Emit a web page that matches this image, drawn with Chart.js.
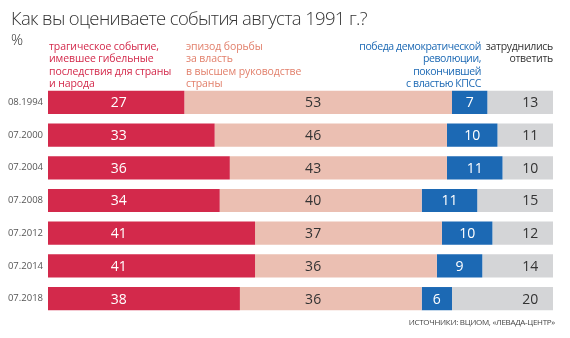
<!DOCTYPE html>
<html lang="ru">
<head>
<meta charset="utf-8">
<title>События августа 1991 г.</title>
<script src="https://cdn.jsdelivr.net/npm/chart.js@4"></script>
<style>
  body { margin: 0; background: #fff; font-family: "Open Sans", "Noto Sans", sans-serif; }
  #wrap { position: relative; width: 570px; height: 338px; overflow: hidden; }
  #myChart { position: absolute; left: 0; top: 0; }
  .t { position: absolute; white-space: nowrap; }
  #title { left: 11px; top: 5px; font-size: 18.5px; font-weight: 300; color: #333; letter-spacing: -0.65px; }
  #pct { left: 11px; top: 29px; font-size: 15px; font-weight: 300; color: #333; }
  .head { top: 40px; font-size: 10.5px; line-height: 12.4px; letter-spacing: -0.1px; }
  #h1 { left: 49px; color: #d3294b; }
  #h2 { left: 186px; color: #e2806c; }
  #h3 { right: 89px; color: #1c69b4; text-align: right; letter-spacing: -0.4px; }
  #h4 { right: 17px; color: #333; text-align: right; letter-spacing: -0.3px; }
  #source { right: 15px; top: 316px; font-size: 8px; color: #444; letter-spacing: -0.3px; }
</style>
</head>
<body>
<div id="wrap">
  <canvas id="myChart" width="570" height="338"></canvas>
  <div class="t" id="title">Как вы оцениваете события августа 1991 г.?</div>
  <div class="t" id="pct">%</div>
  <div class="t head" id="h1">трагическое событие,<br>имевшее гибельные<br>последствия для страны<br>и народа</div>
  <div class="t head" id="h2">эпизод борьбы<br>за власть<br>в высшем руководстве<br>страны</div>
  <div class="t head" id="h3">победа демократической<br>революции,<br>покончившей<br>с властью КПСС</div>
  <div class="t head" id="h4">затруднились<br>ответить</div>
  <div class="t" id="source">ИСТОЧНИКИ: ВЦИОМ, «ЛЕВАДА-ЦЕНТР»</div>
</div>
<script>
const surveyDates = ['08.1994', '07.2000', '07.2004', '07.2008', '07.2012', '07.2014', '07.2018'];
const tragicEvent = [27, 33, 36, 34, 41, 41, 38];
const powerStruggle = [53, 46, 43, 40, 37, 36, 36];
const democraticVictory = [7, 10, 11, 11, 10, 9, 6];
const hardToSay = [13, 11, 10, 15, 12, 14, 20];

// where the value labels of each series sit on the 0..100 axis (null = middle of the bar)
const labelColumns = [14, 52.5, null, 95.5];
const labelColors = ['#ffffff', '#333333', '#ffffff', '#333333'];

const valueLabels = {
    id: 'valueLabels',
    afterDatasetsDraw(chart) {
        const ctx = chart.ctx;
        const xScale = chart.scales.x;
        ctx.save();
        ctx.font = '14px "Open Sans", "Noto Sans", sans-serif';
        ctx.textAlign = 'center';
        ctx.textBaseline = 'middle';
        chart.data.datasets.forEach((ds, i) => {
            const meta = chart.getDatasetMeta(i);
            meta.data.forEach((bar, j) => {
                let x = labelColumns[i] === null
                    ? (bar.x + bar.base) / 2
                    : xScale.getPixelForValue(labelColumns[i]);
                ctx.fillStyle = labelColors[i];
                ctx.fillText(ds.data[j], x, bar.y + 1);
            });
        });
        ctx.restore();
    }
};

const ctx = document.getElementById('myChart');
new Chart(ctx, {
    type: 'bar',
    data: {
        labels: surveyDates,
        datasets: [
            { data: tragicEvent, backgroundColor: '#d3294b' },
            { data: powerStruggle, backgroundColor: '#ebbfb2' },
            { data: democraticVictory, backgroundColor: '#1c69b4' },
            { data: hardToSay, backgroundColor: '#d4d5d7' }
        ]
    },
    options: {
        indexAxis: 'y',
        responsive: false,
        animation: false,
        layout: { padding: { top: 86, bottom: 23, right: 17, left: 0 } },
        datasets: { bar: { categoryPercentage: 1, barPercentage: 0.71, borderWidth: 0 } },
        scales: {
            x: { stacked: true, min: 0, max: 100, display: false },
            y: {
                stacked: true,
                grid: { display: false, drawTicks: false },
                border: { display: false },
                afterFit: (scale) => { scale.width = 48; },
                ticks: {
                    padding: 5,
                    color: '#555',
                    font: { family: '"Open Sans", "Noto Sans", sans-serif', size: 9.5 }
                }
            }
        },
        plugins: {
            legend: { display: false },
            tooltip: { enabled: false }
        }
    },
    plugins: [valueLabels]
});
</script>
</body>
</html>
